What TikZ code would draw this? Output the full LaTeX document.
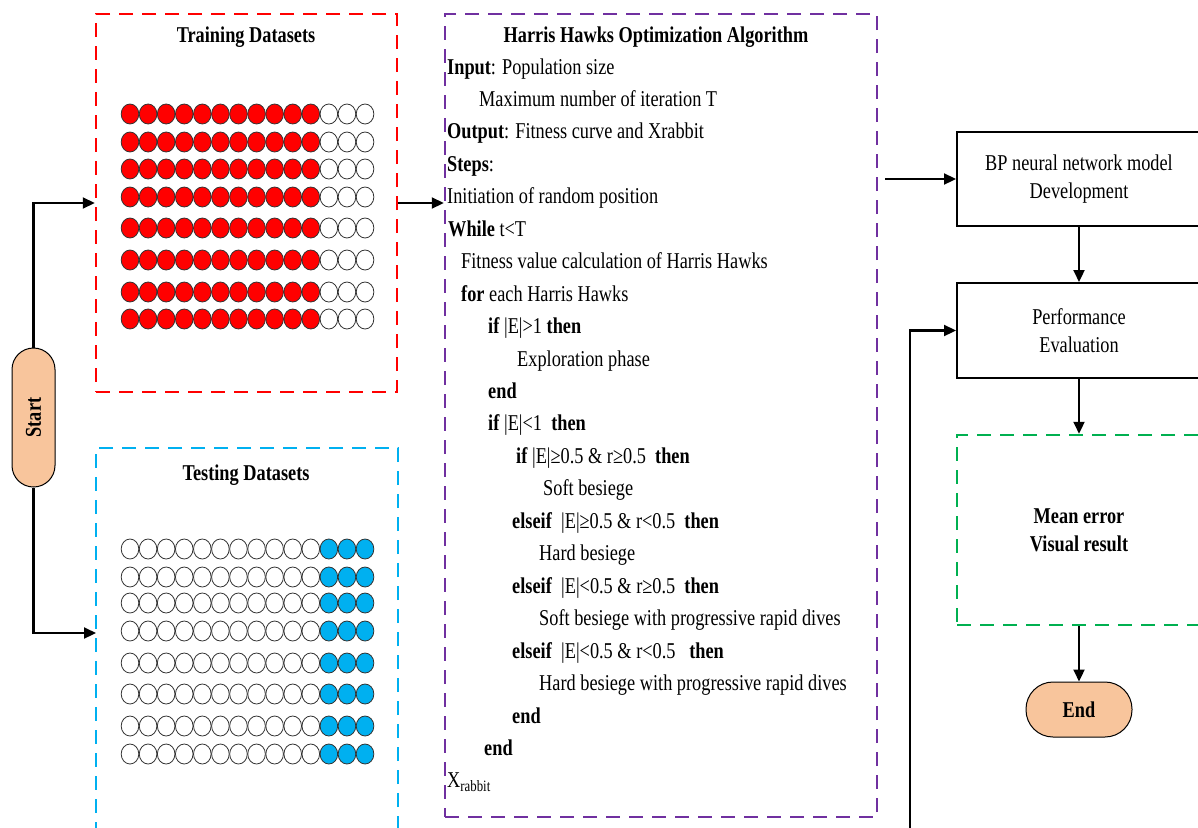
\documentclass[tikz,border=0pt]{standalone}
\usepackage{fontspec}
\setmainfont{Liberation Serif}[FakeStretch=0.81]
\usetikzlibrary{arrows.meta}
\definecolor{hred}{HTML}{FF0000}
\definecolor{hblue}{HTML}{00B0F0}
\definecolor{hpurple}{HTML}{7030A0}
\definecolor{hgreen}{HTML}{00B050}
\definecolor{peach}{HTML}{F8C59C}
\begin{document}
\begin{tikzpicture}[x=1pt,y=-1pt,
  font=\fontsize{22.6}{28}\selectfont,
  dbox/.style={draw, line width=2.5pt, dash pattern=on 14pt off 9pt, inner sep=0pt},
  sbox/.style={draw, line width=2pt, inner sep=0pt, align=center, minimum width=244pt},
  term/.style={draw, line width=1pt, fill=peach, inner sep=0pt},
  arr/.style={line width=2.2pt, -{Triangle[length=12pt,width=11pt]}},
  alg/.style={anchor=base west, inner sep=0pt},
  dot/.style={line width=0.8pt, draw=black!80}]
\useasboundingbox (0,0) rectangle (1198,827);
\clip (0,0) rectangle (1198,827);

% ---------- left column ----------
\node[term, minimum width=43pt, minimum height=139pt, rounded corners=21.5pt] (start) at (33.5,417.5) {\rotatebox{90}{\textbf{Start}}};

\node[dbox, draw=hred, minimum width=301pt, minimum height=378pt] (train) at (246.5,203) {};
\node[anchor=base, inner sep=0pt] (traint) at (246,42) {\textbf{Training Datasets}};

\node[dbox, draw=hblue, minimum width=302pt, minimum height=402pt] (test) at (247,649) {};
\node[anchor=base, inner sep=0pt] (testt) at (246,480) {\textbf{Testing Datasets}};
\coordinate (testin) at (96,633);

\foreach \y in {114,142,169,197,228,260,292,319} {
  \foreach \c in {0,...,10}
    \draw[dot, fill=hred] ({130+18.08*\c},\y) ellipse [x radius=8.8pt, y radius=10pt];
  \foreach \c in {11,...,13}
    \draw[dot, fill=white] ({130+18.08*\c},\y) ellipse [x radius=8.8pt, y radius=10pt];
}
\foreach \y in {549,577,603,631,663,694,726,754} {
  \foreach \c in {0,...,10}
    \draw[dot, fill=white] ({130+18.08*\c},\y) ellipse [x radius=8.8pt, y radius=10pt];
  \foreach \c in {11,...,13}
    \draw[dot, fill=hblue] ({130+18.08*\c},\y) ellipse [x radius=8.8pt, y radius=10pt];
}

% ---------- algorithm box ----------
\node[dbox, draw=hpurple, minimum width=432pt, minimum height=803pt] (hho) at (661,415.5) {};
\node[anchor=base, inner sep=0pt] (hhot) at (656,42) {\textbf{Harris Hawks Optimization Algorithm}};
\node[alg] (l1) at (447,74) {\textbf{Input}: Population size};
\node[alg] (l2) at (479,106.45) {Maximum number of iteration T};
\node[alg] (l3) at (447,138.9) {\textbf{Output}: Fitness curve and Xrabbit};
\node[alg] (l4) at (447,171.35) {\textbf{Steps}:};
\node[alg] (l5) at (447,203.8) {Initiation of random position};
\node[alg] (l6) at (448,236.25) {\textbf{While} t<T};
\node[alg] (l7) at (461,268.7) {Fitness value calculation of Harris Hawks};
\node[alg] (l8) at (461,301.15) {\textbf{for} each Harris Hawks};
\node[alg] (l9) at (488,333.6) {\textbf{if} |E|>1 \textbf{then}};
\node[alg] (l10) at (517,366.05) {Exploration phase};
\node[alg] (l11) at (488,398.5) {\textbf{end}};
\node[alg] (l12) at (488,430.95) {\textbf{if} |E|<1\ \ \textbf{then}};
\node[alg] (l13) at (516,463.4) {\textbf{if} |E|≥0.5 \& r≥0.5\ \ \textbf{then}};
\node[alg] (l14) at (543,495.85) {Soft besiege};
\node[alg] (l15) at (512,528.3) {\textbf{elseif}\ \ |E|≥0.5 \& r<0.5\ \ \textbf{then}};
\node[alg] (l16) at (539,560.75) {Hard besiege};
\node[alg] (l17) at (512,593.2) {\textbf{elseif}\ \ |E|<0.5 \& r≥0.5\ \ \textbf{then}};
\node[alg] (l18) at (539,625.65) {Soft besiege with progressive rapid dives};
\node[alg] (l19) at (512,658.1) {\textbf{elseif}\ \ |E|<0.5 \& r<0.5\ \ \ \textbf{then}};
\node[alg] (l20) at (539,690.55) {Hard besiege with progressive rapid dives};
\node[alg] (l21) at (512,723) {\textbf{end}};
\node[alg] (l22) at (484,755.45) {\textbf{end}};
\node[alg] (l23) at (447,787.9) {X\textsubscript{rabbit}};

% ---------- right column ----------
\node[sbox, minimum height=94pt] (bp) at (1079,179) {BP neural network model\\Development};
\node[sbox, minimum height=95pt] (perf) at (1079,330.5) {Performance\\Evaluation};
\node[dbox, draw=hgreen, align=center, minimum width=244pt, minimum height=190pt] (res) at (1079,530) {\textbf{Mean error}\\\textbf{Visual result}};
\node[term, minimum width=106pt, minimum height=55pt, rounded corners=27pt] (endn) at (1079,709.5) {\textbf{End}};
\coordinate (bpfrom) at (885,179);
\coordinate (fbfrom) at (910,835);

% ---------- connectors ----------
\draw[arr] (start.north) |- (train.west);
\draw[arr] (start.south) |- (testin);
\draw[arr] (train.east) -- (train.east -| hho.west);
\draw[arr] (bpfrom) -- (bp.west);
\draw[arr] (bp.south) -- (perf.north);
\draw[arr] (fbfrom) |- (perf.west);
\draw[arr] (perf.south) -- (res.north);
\draw[arr] (res.south) -- (endn.north);
\end{tikzpicture}
\end{document}
